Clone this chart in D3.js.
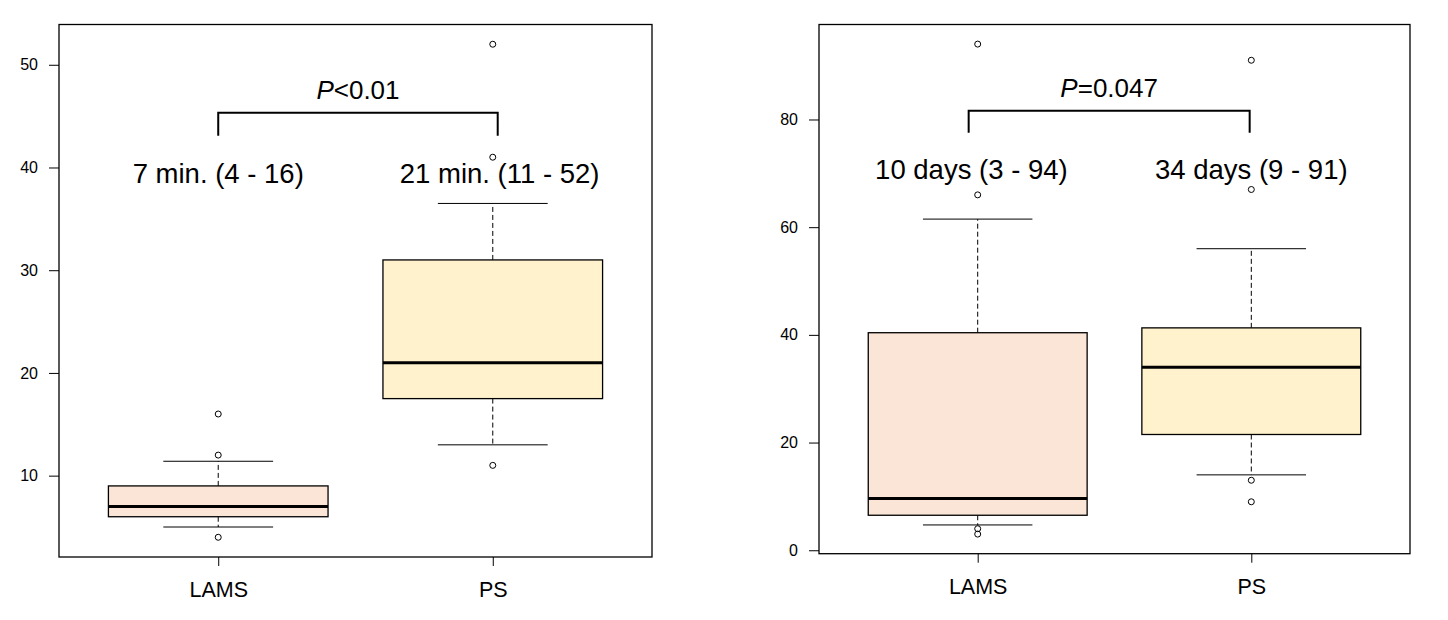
<!DOCTYPE html>
<html>
<head>
<meta charset="utf-8">
<script src="https://cdn.jsdelivr.net/npm/d3@7"></script>
<style>
  body { margin: 0; background: #fff; }
  svg { display: block; font-family: "Liberation Sans", Arial, sans-serif; }
  .tick text { fill: #000; }
</style>
</head>
<body>
<div id="container"></div>
<script>
// groups and fills
let groups = ["LAMS", "PS"];
let fills = ["#FBE5D6", "#FFF2CC"];

// panel 1: procedure time (min)
let timeLow = [5, 13];
let timeQ1 = [6, 17.5];
let timeMed = [7, 21];
let timeQ3 = [9, 31];
let timeHigh = [11.4, 36.5];
let timeOut = [[4, 12, 16], [11, 41, 52]];
let timeTicks = [10, 20, 30, 40, 50];
let timeLabels = ["7 min. (4 - 16)", "21 min. (11 - 52)"];
let timeLabelX = [1.0, 2.025];
let timeLabelY = 38.5;
let timeP = "<0.01";
let timeBracketX = [1.0, 2.018];
let timeBracketY = [45.33, 43.1];
let timePY = 46.7;

// panel 2: days
let dayLow = [4.7, 14];
let dayQ1 = [6.5, 21.5];
let dayMed = [9.6, 34];
let dayQ3 = [40.4, 41.3];
let dayHigh = [61.5, 56];
let dayOut = [[3, 4, 66, 94], [9, 13, 67, 91]];
let dayTicks = [0, 20, 40, 60, 80];
let dayLabels = ["10 days (3 - 94)", "34 days (9 - 91)"];
let dayLabelX = [0.977, 2.0];
let dayLabelY = 69;
let dayP = "=0.047";
let dayBracketX = [0.967, 1.994];
let dayBracketY = [81.6, 77.55];
let dayPY = 84.2;

let width = 1448, height = 620;

let svg = d3.select("#container").append("svg")
    .attr("width", width)
    .attr("height", height);

function drawPanel(p) {
    let g = svg.append("g");

    let all = [].concat(p.low, p.high, ...p.out);
    let ext = d3.extent(all);
    let pad = (ext[1] - ext[0]) * 0.04;

    let x = d3.scaleLinear().domain([0.42, 2.58]).range([p.left, p.right]);
    let y = d3.scaleLinear().domain([ext[0] - pad, ext[1] + pad]).range([p.bottom, p.top]);

    let unit = x(1) - x(0);
    let boxW = 0.8 * unit, stapleW = 0.4 * unit;

    let stats = groups.map((name, i) => ({
        name: name, i: i + 1, fill: fills[i],
        low: p.low[i], q1: p.q1[i], med: p.med[i], q3: p.q3[i], high: p.high[i], out: p.out[i]
    }));

    // y axis
    let yAxis = d3.axisLeft(y).tickValues(p.ticks).tickSize(10).tickSizeOuter(0).tickPadding(11);
    let ya = g.append("g")
        .attr("transform", "translate(" + p.left + ",0)")
        .call(yAxis);
    ya.select(".domain").remove();
    ya.selectAll("line").attr("stroke", "#000");
    ya.selectAll("text").attr("font-size", 16);

    // x axis
    let xAxis = d3.axisBottom(x).tickValues([1, 2]).tickFormat((d, i) => groups[i]).tickSize(9).tickPadding(16);
    let xa = g.append("g")
        .attr("transform", "translate(0," + p.bottom + ")")
        .call(xAxis);
    xa.select(".domain").remove();
    xa.selectAll("line").attr("stroke", "#000");
    xa.selectAll("text").attr("font-size", 21.5);

    let box = g.selectAll(".box").data(stats).enter().append("g").attr("class", "box");

    // whiskers (dashed)
    box.append("line")
        .attr("x1", d => x(d.i)).attr("x2", d => x(d.i))
        .attr("y1", d => y(d.q3)).attr("y2", d => y(d.high))
        .attr("stroke", "#000").attr("stroke-dasharray", "5,3");
    box.append("line")
        .attr("x1", d => x(d.i)).attr("x2", d => x(d.i))
        .attr("y1", d => y(d.q1)).attr("y2", d => y(d.low))
        .attr("stroke", "#000").attr("stroke-dasharray", "5,3");

    // staples
    box.append("line")
        .attr("x1", d => x(d.i) - stapleW / 2).attr("x2", d => x(d.i) + stapleW / 2)
        .attr("y1", d => y(d.high)).attr("y2", d => y(d.high))
        .attr("stroke", "#000");
    box.append("line")
        .attr("x1", d => x(d.i) - stapleW / 2).attr("x2", d => x(d.i) + stapleW / 2)
        .attr("y1", d => y(d.low)).attr("y2", d => y(d.low))
        .attr("stroke", "#000");

    // box
    box.append("rect")
        .attr("x", d => x(d.i) - boxW / 2)
        .attr("width", boxW)
        .attr("y", d => y(d.q3))
        .attr("height", d => y(d.q1) - y(d.q3))
        .attr("fill", d => d.fill)
        .attr("stroke", "#000")
        .attr("stroke-width", 1.3);

    // median
    box.append("line")
        .attr("x1", d => x(d.i) - boxW / 2).attr("x2", d => x(d.i) + boxW / 2)
        .attr("y1", d => y(d.med)).attr("y2", d => y(d.med))
        .attr("stroke", "#000").attr("stroke-width", 3);

    // outliers
    box.selectAll("circle").data(d => d.out.map(v => ({i: d.i, v: v})))
        .enter().append("circle")
        .attr("cx", d => x(d.i))
        .attr("cy", d => y(d.v))
        .attr("r", 3)
        .attr("fill", "none")
        .attr("stroke", "#000")
        .attr("stroke-width", 1);

    // frame
    g.append("rect")
        .attr("x", p.left).attr("y", p.top)
        .attr("width", p.right - p.left).attr("height", p.bottom - p.top)
        .attr("fill", "none").attr("stroke", "#000").attr("stroke-width", 1.3);

    // bracket
    g.append("path")
        .attr("d", d3.line()([
            [x(p.bracketX[0]), y(p.bracketY[1])],
            [x(p.bracketX[0]), y(p.bracketY[0])],
            [x(p.bracketX[1]), y(p.bracketY[0])],
            [x(p.bracketX[1]), y(p.bracketY[1])]
        ]))
        .attr("fill", "none").attr("stroke", "#000").attr("stroke-width", 2);

    // p value
    let pt = g.append("text")
        .attr("x", x((p.bracketX[0] + p.bracketX[1]) / 2))
        .attr("y", y(p.pY))
        .attr("text-anchor", "middle")
        .attr("font-size", 26);
    pt.append("tspan").attr("font-style", "italic").text("P");
    pt.append("tspan").text(p.pText);

    // median (range) labels
    g.selectAll(".lab").data(p.labels).enter().append("text")
        .attr("class", "lab")
        .attr("x", (d, i) => x(p.labelX[i]))
        .attr("y", y(p.labelY))
        .attr("text-anchor", "middle")
        .attr("font-size", 27.5)
        .text(d => d);
}

drawPanel({
    left: 59, right: 652, top: 24.5, bottom: 557,
    low: timeLow, q1: timeQ1, med: timeMed, q3: timeQ3, high: timeHigh, out: timeOut,
    ticks: timeTicks, labels: timeLabels, labelX: timeLabelX, labelY: timeLabelY,
    pText: timeP, pY: timePY, bracketX: timeBracketX, bracketY: timeBracketY
});

drawPanel({
    left: 819, right: 1410, top: 24.5, bottom: 553.7,
    low: dayLow, q1: dayQ1, med: dayMed, q3: dayQ3, high: dayHigh, out: dayOut,
    ticks: dayTicks, labels: dayLabels, labelX: dayLabelX, labelY: dayLabelY,
    pText: dayP, pY: dayPY, bracketX: dayBracketX, bracketY: dayBracketY
});
</script>
</body>
</html>
